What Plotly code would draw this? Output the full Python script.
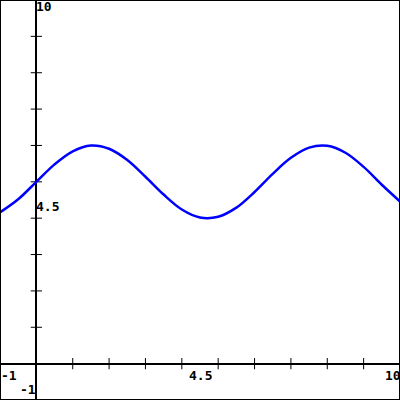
import plotly.graph_objects as go

# Curve values
x_vals = [-1, -0.5, 0, 0.5, 1, 1.5, 2, 2.5, 3, 3.5, 4, 4.5, 5, 5.5, 6, 6.5, 7, 7.5, 8, 8.5, 9, 9.5, 10]
y_vals = [4.16, 4.52, 5.0, 5.48, 5.84, 6.0, 5.91, 5.6, 5.14, 4.65, 4.24, 4.02, 4.04, 4.29, 4.72, 5.22, 5.66, 5.94, 5.99, 5.80, 5.41, 4.92, 4.46]

x_range = [-1, 10]
y_range = [-1, 10]
x_ticks = list(range(-1, 11))
y_ticks = list(range(-1, 11))

fig = go.Figure()

# Tick marks on the axes
fig.add_trace(go.Scatter(x=x_ticks, y=[0] * len(x_ticks), mode="markers",
                         marker=dict(symbol="line-ns", size=8, line=dict(color="black", width=1)),
                         hoverinfo="skip", showlegend=False, cliponaxis=False))
fig.add_trace(go.Scatter(x=[0] * len(y_ticks), y=y_ticks, mode="markers",
                         marker=dict(symbol="line-ew", size=8, line=dict(color="black", width=1)),
                         hoverinfo="skip", showlegend=False, cliponaxis=False))

fig.add_trace(go.Scatter(x=x_vals, y=y_vals, mode="lines",
                         line=dict(color="#0000FF", width=2.5, shape="spline"),
                         showlegend=False))

font = dict(family="DejaVu Sans Mono", size=13, color="black")
ann = []
# x-axis labels
ann.append(dict(x=x_range[0], y=0, text="<b>-1</b>", xanchor="left", yanchor="top", yshift=-3))
ann.append(dict(x=(x_range[0] + x_range[1]) / 2, y=0, text="<b>4.5</b>", xanchor="center", yanchor="top", yshift=-3))
ann.append(dict(x=x_range[1], y=0, text="<b>10</b>", xanchor="right", yanchor="top", yshift=-3, xshift=2))
# y-axis labels
ann.append(dict(x=0, y=y_range[1], text="<b>10</b>", xanchor="left", yanchor="top", xshift=-1, yshift=2))
ann.append(dict(x=0, y=(y_range[0] + y_range[1]) / 2, text="<b>4.5</b>", xanchor="left", yanchor="top", xshift=-1, yshift=2))
ann.append(dict(x=0, y=y_range[0], text="<b>-1</b>", xanchor="right", yanchor="bottom", xshift=1, yshift=2))
for a in ann:
    a.update(xref="x", yref="y", showarrow=False, font=font, borderpad=0)

fig.update_layout(
    width=400, height=400,
    margin=dict(l=0, r=0, t=0, b=0, pad=0, autoexpand=False),
    plot_bgcolor="white", paper_bgcolor="white",
    xaxis=dict(range=x_range, showgrid=False, zeroline=True, zerolinecolor="black",
               zerolinewidth=1.5, showticklabels=False, ticks="", fixedrange=True,
               showline=False, automargin=False),
    yaxis=dict(range=y_range, showgrid=False, zeroline=True, zerolinecolor="black",
               zerolinewidth=1.5, showticklabels=False, ticks="", fixedrange=True,
               showline=False, automargin=False),
    annotations=ann,
    shapes=[dict(type="rect", xref="paper", yref="paper", x0=0, y0=0, x1=1, y1=1,
                 line=dict(color="black", width=2))],
)

post = ("document.body.style.margin='0';document.body.style.padding='0';"
        "document.body.style.overflow='hidden';"
        "var gd=document.getElementById('{plot_id}');"
        "Plotly.relayout(gd,{width:400,height:400});")

fig.write_html("out.html", post_script=post, config={"displayModeBar": False})
